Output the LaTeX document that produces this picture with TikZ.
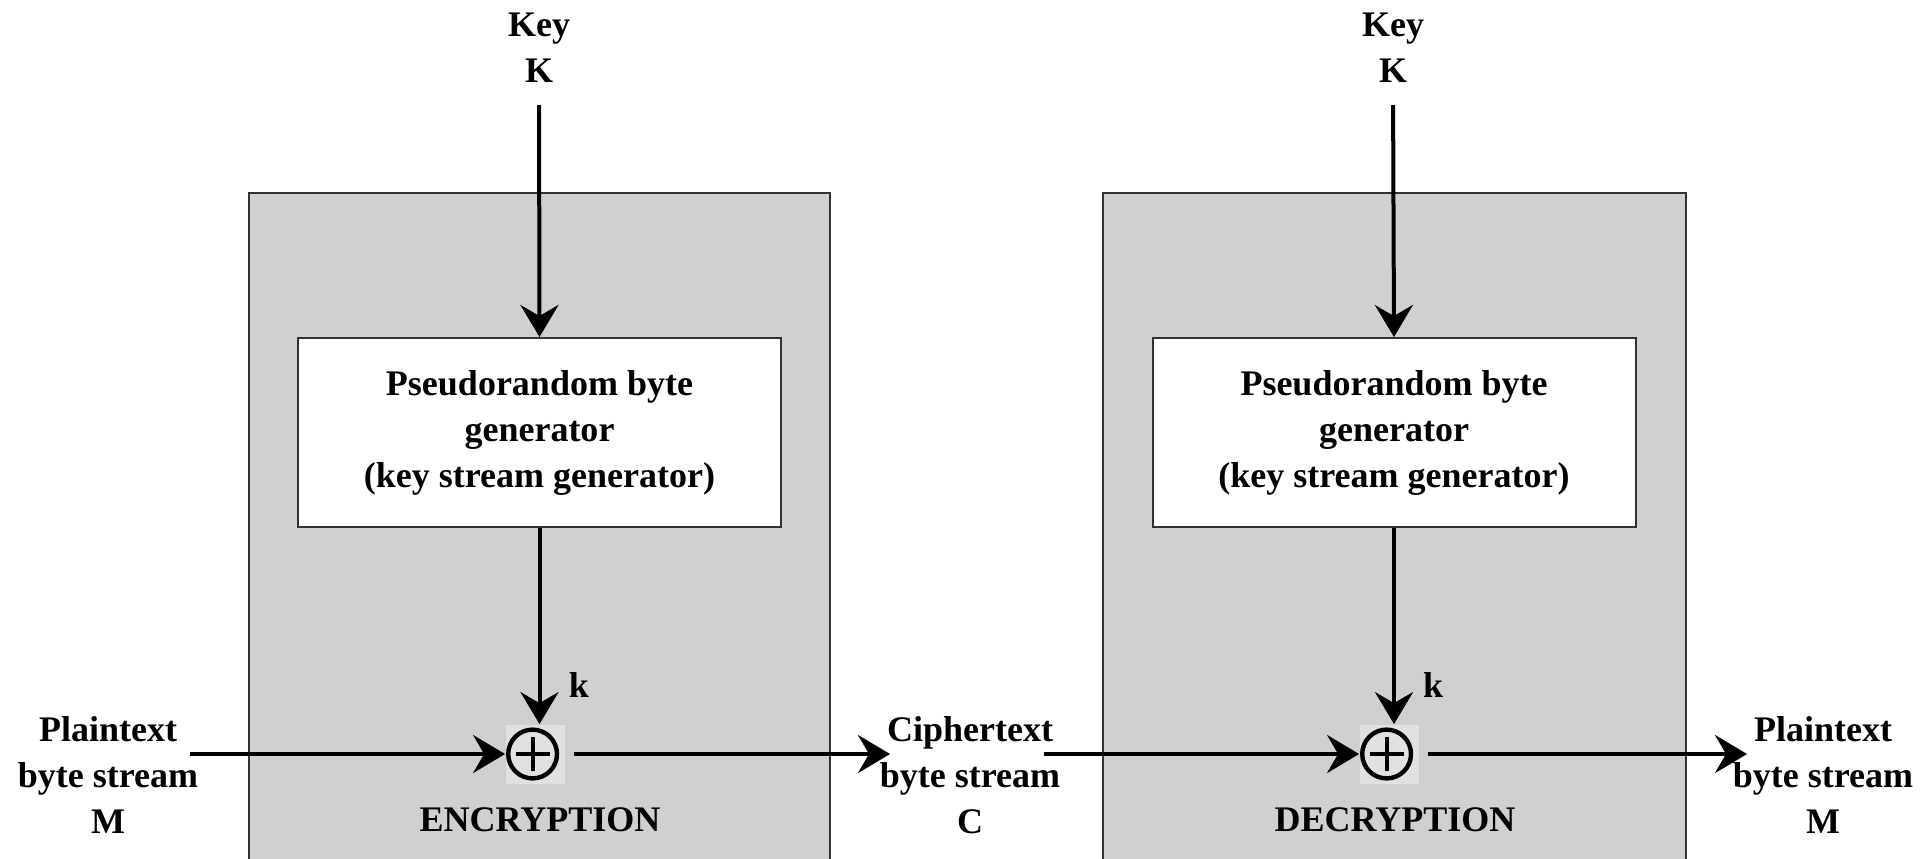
\documentclass[tikz,border=0pt]{standalone}
\usepackage{fontspec}
\setmainfont{Liberation Serif}
\usetikzlibrary{arrows.meta}
\definecolor{panelgray}{RGB}{208,208,208}
\definecolor{xorbg}{RGB}{225,225,225}
\definecolor{edgegray}{RGB}{50,50,50}
\tikzset{
  lbl/.style={font=\bfseries\fontsize{18}{23}\selectfont, align=center, inner sep=0pt},
  genbox/.style={draw=edgegray, line width=1pt, fill=white,
    minimum width=241.5pt, minimum height=94.5pt, inner sep=0pt,
    font=\bfseries\fontsize{18}{23}\selectfont, align=center},
  xorsym/.style={minimum size=29.5pt, inner sep=0pt, fill=xorbg,
    path picture={
      \draw[line width=2.2pt] ([xshift=-1.2pt]path picture bounding box.center) circle (12.2pt);
      \draw[line width=2pt] ([xshift=-9.7pt]path picture bounding box.center) -- ++(17pt,0pt);
      \draw[line width=2pt] ([xshift=-1.2pt,yshift=-8.5pt]path picture bounding box.center) -- ++(0pt,17pt);
    }},
  arr/.style={line width=2pt, -{Stealth[length=16pt,width=19pt,inset=5.5pt]}}
}
\begin{document}
\begin{tikzpicture}[x=0.5pt,y=-0.5pt]
\useasboundingbox (0,0) rectangle (1920,858);

% encryption and decryption panels
\fill[panelgray] (249,193) rectangle (830,880);
\draw[edgegray, line width=1pt] (249,880) -- (249,193) -- (830,193) -- (830,880);
\fill[panelgray] (1103,193) rectangle (1686,880);
\draw[edgegray, line width=1pt] (1103,880) -- (1103,193) -- (1686,193) -- (1686,880);

% keys
\node[lbl] (keyA) at (539,48) {Key\\K};
\node[lbl] (keyB) at (1393,48) {Key\\K};

% key stream generators
\node[genbox] (prngA) at (539.5,432.5) {Pseudorandom byte\\generator\\(key stream generator)};
\node[genbox] (prngB) at (1394,432.5) {Pseudorandom byte\\generator\\(key stream generator)};

% XOR combiners
\node[xorsym] (xorA) at (535,754) {};
\node[xorsym] (xorB) at (1389,754) {};

% stream labels
\node[lbl] (ptA) at (108,775) {Plaintext\\byte stream\\M};
\node[lbl] (ctx) at (970,775) {Ciphertext\\byte stream\\C};
\node[lbl] (ptB) at (1823,775) {Plaintext\\byte stream\\M};

\node[lbl] (kA) at (579,685) {k};
\node[lbl] (kB) at (1433,685) {k};
\node[lbl] (encA) at (540,820) {ENCRYPTION};
\node[lbl] (decB) at (1395,820) {DECRYPTION};

% connector end points
\coordinate (inA) at (190,754);
\coordinate (ctIn) at (890,754);
\coordinate (ctOut) at (1044,754);
\coordinate (outB) at (1747,754);

% key inputs
\draw[arr, shorten <=11pt] (keyA.south) -- (prngA.north);
\draw[arr, shorten <=11pt] (keyB.south) -- (prngB.north);

% key streams into the XORs
\draw[arr] (prngA.south) -- (prngA.south |- xorA.north);
\draw[arr] (prngB.south) -- (prngB.south |- xorB.north);

% data path
\draw[arr] (inA) -- (xorA.west);
\draw[arr, shorten <=4.5pt] (xorA.east) -- (ctIn);
\draw[arr] (ctOut) -- (xorB.west);
\draw[arr, shorten <=4.5pt] (xorB.east) -- (outB);
\end{tikzpicture}
\end{document}
